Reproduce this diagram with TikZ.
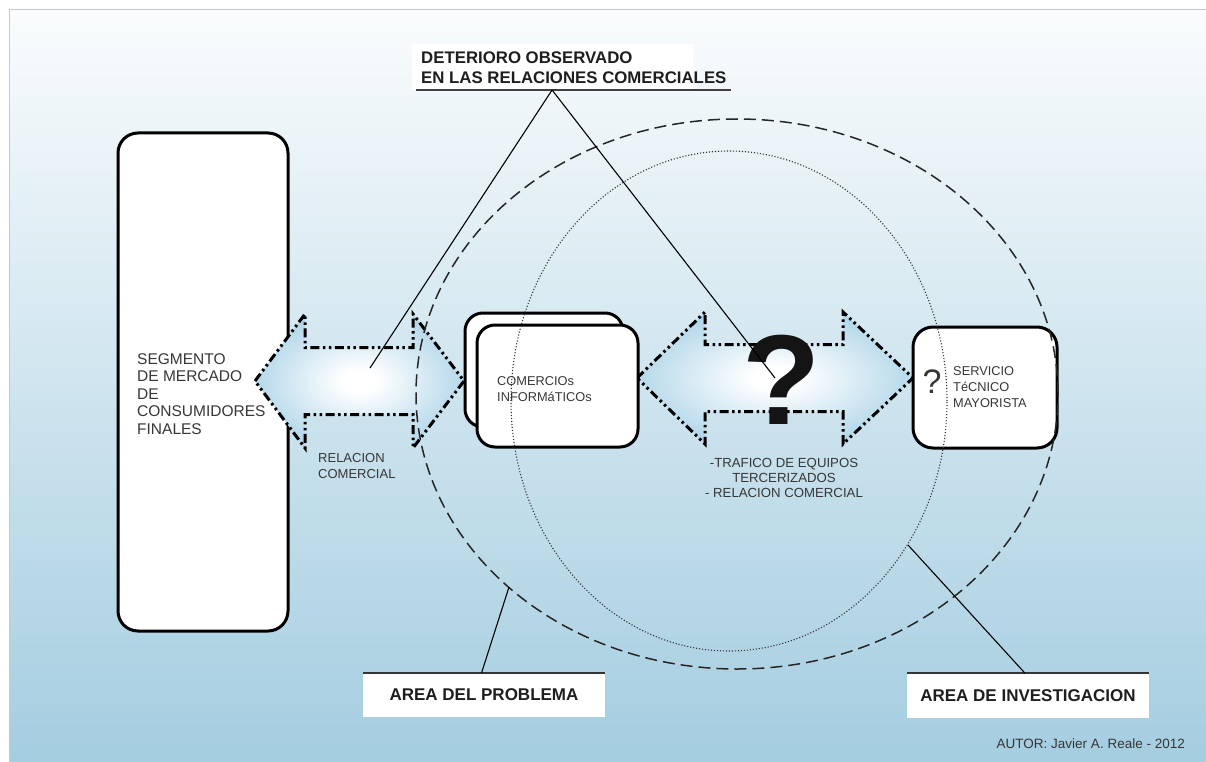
\documentclass[tikz,border=0pt]{standalone}
\usepackage{fontspec}
\setmainfont{Liberation Sans}
\usetikzlibrary{calc}
\definecolor{bgtop}{RGB}{250,252,253}
\definecolor{bgmid}{RGB}{208,230,239}
\definecolor{bgbot}{RGB}{164,205,224}
\definecolor{arrowblue}{RGB}{143,196,223}
\definecolor{txtgray}{RGB}{55,55,55}
\definecolor{lblblack}{RGB}{30,30,30}
\definecolor{framegray}{RGB}{200,200,200}
\pgfdeclareradialshading{arrowshade}{\pgfpoint{0bp}{0bp}}{color(0bp)=(white); color(4bp)=(white); color(36bp)=(arrowblue); color(50bp)=(arrowblue)}
\newcommand\blockarrow[6]{%
  \path[arrowline] (#1,#5) -- (#2,#5-#6) -- (#2,#5-33.5) -- (#3,#5-33.5) -- (#3,#5-#6) -- (#4,#5)
    -- (#3,#5+#6) -- (#3,#5+33.5) -- (#2,#5+33.5) -- (#2,#5+#6) -- cycle;}
\tikzset{
  arrowline/.style={shade, shading=arrowshade, draw=black, line width=3pt,
    dash pattern=on 9pt off 3.5pt on 2.5pt off 3.5pt on 2.5pt off 3.5pt, line join=miter},
  roundbox/.style={draw=black, fill=white, line width=3pt, rounded corners=18pt, inner sep=0pt},
  txt/.style={text=txtgray, inner sep=0pt, align=left},
  arealabel/.style={fill=white, inner sep=0pt, minimum width=242pt, minimum height=44pt,
    text=lblblack, font=\fontsize{17}{20}\selectfont\bfseries},
  areatop/.style={draw=lblblack!90, line width=1.8pt},
  pointer/.style={draw=black, line width=1.1pt},
  probarea/.style={draw=black!85, line width=1.5pt, dash pattern=on 12pt off 6pt},
  invarea/.style={draw=black!80, line width=1.1pt, dash pattern=on 1.1pt off 1.9pt},
}
\begin{document}
\begin{tikzpicture}[x=1pt,y=-1pt]
\useasboundingbox (0,0) rectangle (1206,762);
\fill[white] (0,0) rectangle (1206,762);
\shade[top color=bgtop, middle color=bgmid, bottom color=bgbot] (9,10) rectangle (1206,762);
\draw[framegray, line width=1pt] (9,762) -- (9,10) -- (1206,10);

% left segment box
\node[roundbox, rounded corners=20pt, minimum width=170pt, minimum height=498pt] (seg) at (203,382) {};

% block arrows
\blockarrow{255}{305}{413}{464}{381}{67}
\blockarrow{637}{705}{843}{913}{378}{66}

% middle boxes
\node[roundbox, minimum width=158pt, minimum height=114pt] (comB) at (544,370) {};
\node[roundbox, minimum width=161pt, minimum height=122pt] (comF) at (557.5,386) {};
% right box
\node[roundbox, rounded corners=20pt, minimum width=144pt, minimum height=121pt] (serv) at (985,387.5) {};

% big question mark
\node[inner sep=0pt, text=black!92, font=\fontsize{128}{128}\selectfont\bfseries] (bigq) at (782,380) {?};

% ellipses
\draw[probarea] (737,394) ellipse [x radius=321pt, y radius=275pt];
\draw[invarea] (729,401) ellipse [x radius=218pt, y radius=250pt];

% texts
\node[txt, anchor=west, font=\fontsize{15.5}{17.6}\selectfont] (segtxt) at (137,394)
  {SEGMENTO\\DE MERCADO\\DE\\CONSUMIDORES\\FINALES};
\node[txt, anchor=west, font=\fontsize{12.8}{16.5}\selectfont] (comtxt) at (497,389)
  {COMERCIOs\\INFORMáTICOs};
\node[inner sep=0pt, text=txtgray, font=\fontsize{34}{34}\selectfont] (smallq) at (932,382) {?};
\node[txt, anchor=west, font=\fontsize{12.8}{16.2}\selectfont] (servtxt) at (953,387)
  {SERVICIO\\TéCNICO\\MAYORISTA};
\node[txt, anchor=west, font=\fontsize{13}{15.5}\selectfont] (reltxt) at (318,466)
  {RELACION\\COMERCIAL};
\node[txt, align=center, font=\fontsize{13.2}{15.3}\selectfont] (traftxt) at (784,478)
  {-TRAFICO DE EQUIPOS\\TERCERIZADOS\\- RELACION COMERCIAL};

% title
\fill[white] (412,44) rectangle (693,90);
\node[inner sep=0pt, anchor=west, align=left, text=lblblack, font=\fontsize{16.8}{20}\selectfont\bfseries] (title) at (421,68)
  {DETERIORO OBSERVADO\\EN LAS RELACIONES COMERCIALES};
\coordinate (ulL) at (416,90);
\coordinate (ulR) at (731,90);
\draw[draw=black!75, line width=2pt] (ulL) -- (ulR);
\coordinate (apex) at ($(ulL)!0.432!(ulR)$);
\coordinate (lefttarget) at (370,368);
\coordinate (qtarget) at (775,378);
\draw[pointer] (apex) -- (lefttarget);
\draw[pointer] (apex) -- (qtarget);

% area labels
\node[arealabel] (prob) at (484,695) {AREA DEL PROBLEMA};
\node[arealabel] (inv) at (1028,695.5) {AREA DE INVESTIGACION};
\draw[areatop] (prob.north west) -- (prob.north east);
\draw[areatop] (inv.north west) -- (inv.north east);
\coordinate (probend) at (509,587);
\coordinate (invend) at (908,545);
\draw[pointer] ($(prob.north west)!0.49!(prob.north east)$) -- (probend);
\draw[pointer] ($(inv.north west)!0.488!(inv.north east)$) -- (invend);

% author
\node[inner sep=0pt, anchor=east, text=txtgray, font=\fontsize{13.5}{16}\selectfont] (autor) at (1185,744)
  {AUTOR: Javier A. Reale - 2012};
\end{tikzpicture}
\end{document}
